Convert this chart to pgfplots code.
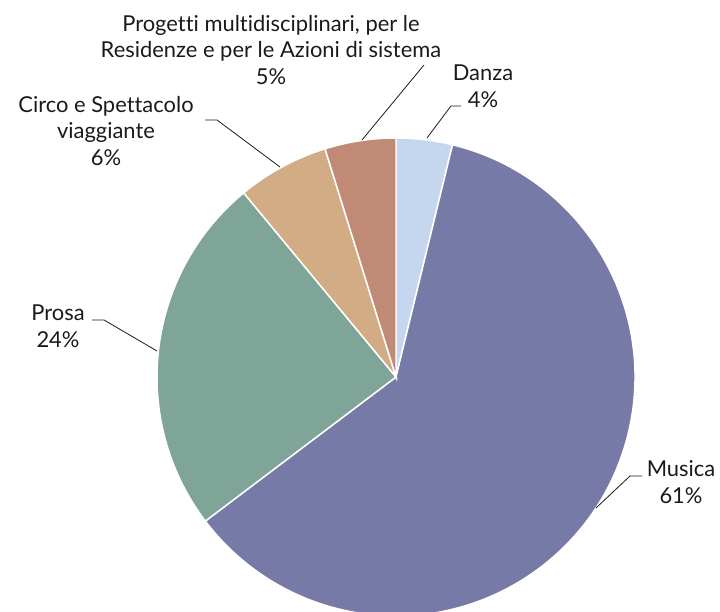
\documentclass[border=0pt]{standalone}
\usepackage{pgfplots}
\usepackage{pgfplotstable}
\pgfplotsset{compat=1.18}
\usepackage{fontspec}
\setmainfont{Lato}[Ligatures=NoCommon]
\definecolor{cDanza}{HTML}{C5D7EE}
\definecolor{cMusica}{HTML}{7779A6}
\definecolor{cProsa}{HTML}{7EA598}
\definecolor{cCirco}{HTML}{D2AC84}
\definecolor{cProgetti}{HTML}{C08A76}
\definecolor{txt}{HTML}{1A1A1A}
\pgfplotstableread{
label value color
Danza 3.8 cDanza
Musica 60.9 cMusica
Prosa 24.3 cProsa
Circo 6.2 cCirco
Progetti 4.8 cProgetti
}\piedata
\begin{document}
\begin{tikzpicture}
\clip (0,0) rectangle (720bp,612bp);
\begin{axis}[at={(0,0)}, anchor=south west, hide axis, scale only axis,
  width=720bp, height=612bp, xmin=0, xmax=720, ymin=0, ymax=612, clip=false]
\xdef\cum{0}
\pgfplotsforeachungrouped \i in {0,...,4}{%
  \pgfplotstablegetelem{\i}{value}\of\piedata \let\v\pgfplotsretval
  \pgfplotstablegetelem{\i}{color}\of\piedata \let\c\pgfplotsretval
  \pgfmathsetmacro\a{90-\cum*3.6}%
  \pgfmathsetmacro\b{90-(\cum+\v)*3.6}%
  \edef\temp{\noexpand\fill[\c, draw=white, line width=1.5pt] (axis cs:396,235) -- ++(\a:239bp) arc[start angle=\a, end angle=\b, radius=239bp] -- cycle;}%
  \temp
  \pgfmathsetmacro\newcum{\cum+\v}%
  \xdef\cum{\newcum}%
}
% leader lines
\draw[txt, line width=0.8pt] (axis cs:427,474) -- (axis cs:451,506) -- (axis cs:461,506);
\draw[txt, line width=0.8pt] (axis cs:362,472) -- (axis cs:424,547);
\draw[txt, line width=0.8pt] (axis cs:280,445) -- (axis cs:217,492) -- (axis cs:205,492);
\draw[txt, line width=0.8pt] (axis cs:157,261) -- (axis cs:104,292) -- (axis cs:92,292);
\draw[txt, line width=0.8pt] (axis cs:596,104) -- (axis cs:630,136) -- (axis cs:642,136);
% labels
\tikzset{lab/.style={align=center, text=txt, font=\fontsize{22}{27}\selectfont, inner sep=0pt}}
\node[lab] at (axis cs:271,562) {Progetti multidisciplinari, per le\\Residenze e per le Azioni di sistema\\5\%};
\node[lab] at (axis cs:483,526) {Danza\\4\%};
\node[lab] at (axis cs:106,481) {Circo e Spettacolo\\viaggiante\\6\%};
\node[lab] at (axis cs:58,285.5) {Prosa\\24\%};
\node[lab] at (axis cs:681,129.5) {Musica\\61\%};
\end{axis}
\end{tikzpicture}
\end{document}
